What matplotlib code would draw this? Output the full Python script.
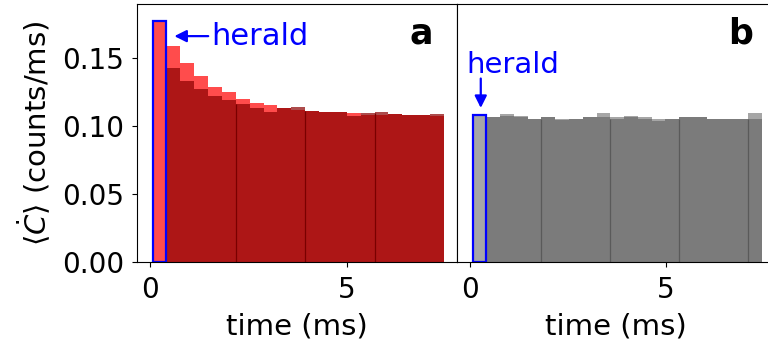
import numpy as np
import matplotlib
matplotlib.use("Agg")
import matplotlib.pyplot as plt

# bin layout (ms)
herald_start = 0.07
herald_width = 0.35
bin_start = 0.42
bin_width = 0.352

# panel a: heralded vs. reference count rate (counts/ms)
herald_a = 0.178
light_a = [0.1593, 0.1470, 0.1370, 0.1290, 0.1253, 0.1202, 0.1172, 0.1155, 0.1135, 0.1120,
           0.1116, 0.1108, 0.1108, 0.1098, 0.1083, 0.1086, 0.1091, 0.1083, 0.1083, 0.1076]
dark_a = [0.1431, 0.1335, 0.1275, 0.1224, 0.1194, 0.1165, 0.1135, 0.1106, 0.1133, 0.1142,
          0.1116, 0.1108, 0.1108, 0.1078, 0.1098, 0.1108, 0.1091, 0.1083, 0.1083, 0.1093]
seg_a = [5, 10, 15]

# panel b
herald_b = 0.1082
light_b = [0.1069, 0.1089, 0.1074, 0.1057, 0.1069, 0.1057, 0.1057, 0.1069, 0.1097, 0.1069,
           0.1074, 0.1065, 0.1057, 0.1057, 0.1069, 0.1069, 0.1057, 0.1057, 0.1057, 0.1094]
dark_b = [0.1069, 0.1074, 0.1065, 0.1057, 0.1065, 0.1045, 0.1050, 0.1065, 0.1069, 0.1052,
          0.1065, 0.1057, 0.1037, 0.1057, 0.1065, 0.1065, 0.1057, 0.1052, 0.1057, 0.1057]
seg_b = [4, 9, 14, 19]

plt.rcParams['font.family'] = 'DejaVu Sans'

fig = plt.figure(figsize=(7.68, 3.43), dpi=100)
ax_a = fig.add_axes([0.1788, 0.237, 0.4167, 0.7505])
ax_b = fig.add_axes([0.5954, 0.237, 0.4141, 0.7505])


def draw(ax, herald, light, dark, segs, c_light, c_dark, c_seg):
    left = bin_start + bin_width * np.arange(len(light))
    ax.bar(left, light, width=bin_width, align='edge', color=c_light, alpha=0.7, lw=0)
    ax.bar(left, dark, width=bin_width, align='edge', color=c_dark, alpha=0.7, lw=0)
    ax.bar(herald_start, herald, width=herald_width, align='edge', color=c_light,
           alpha=0.7, lw=0)
    ax.bar(herald_start, herald, width=herald_width, align='edge', fill=False,
           edgecolor='blue', lw=1.6)
    for i in segs:
        ax.vlines(left[i], 0, min(dark[i], dark[i - 1]), color=c_seg, lw=0.9)
    ax.set_xlim(-0.32, 7.8)
    ax.set_ylim(0, 0.19)
    ax.set_xticks([0, 5])
    ax.set_xlabel('time (ms)', fontsize=21, labelpad=6)
    ax.tick_params(axis='x', labelsize=20, pad=7)


draw(ax_a, herald_a, light_a, dark_a, seg_a, 'red', 'darkred', '#7a0000')
draw(ax_b, herald_b, light_b, dark_b, seg_b, 'gray', 'dimgray', '#5a5a5a')

ax_a.set_yticks([0, 0.05, 0.10, 0.15])
ax_a.set_yticklabels(['0.00', '0.05', '0.10', '0.15'])
ax_a.tick_params(axis='y', labelsize=20, pad=6)
ax_a.set_ylabel(r'$\langle\dot{C}\rangle$ (counts/ms)', fontsize=21, labelpad=6)
ax_b.set_yticks([])

ax_a.text(0.925, 0.885, 'a', transform=ax_a.transAxes, fontsize=25, fontweight='bold',
          ha='right', va='center')
ax_b.text(0.93, 0.885, 'b', transform=ax_b.transAxes, fontsize=25, fontweight='bold',
          ha='right', va='center')

arrow = dict(arrowstyle='-|>', color='blue', lw=1.6, mutation_scale=18, shrinkA=0, shrinkB=0)
ax_a.annotate('herald', xy=(0.62, 0.1665), xytext=(1.55, 0.1665), color='blue',
              fontsize=22, va='center', ha='left', arrowprops=arrow)
ax_b.annotate('', xy=(0.28, 0.1135), xytext=(0.28, 0.1352), arrowprops=arrow)
ax_b.text(-0.1, 0.1394, 'herald', color='blue', fontsize=21, ha='left', va='baseline')

fig.savefig('out.png', dpi=100)
